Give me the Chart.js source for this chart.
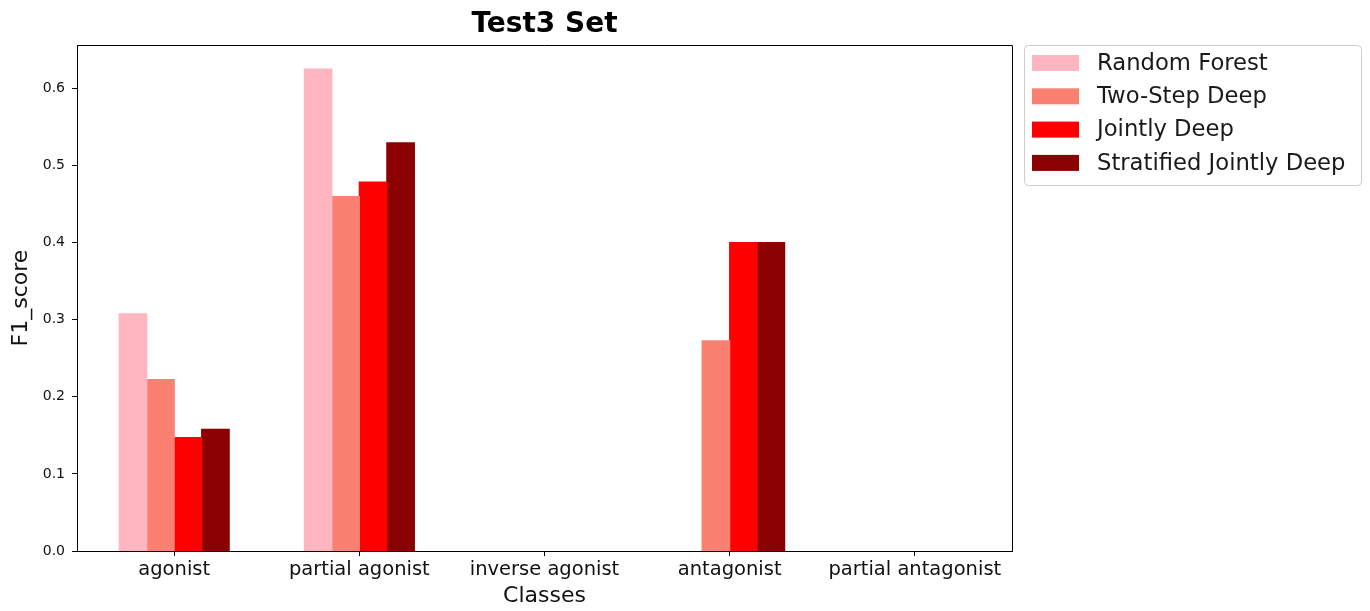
<!DOCTYPE html>
<html>
<head>
<meta charset="utf-8">
<title>Test3 Set</title>
<script src="https://cdn.jsdelivr.net/npm/chart.js@4.4.1/dist/chart.umd.min.js"></script>
<style>
  html, body { margin: 0; padding: 0; background: #fff; }
  #wrap { width: 1370px; height: 611px; }
</style>
</head>
<body>
<div id="wrap"><canvas id="f1chart" width="1370" height="611"></canvas></div>
<script>
// F1 per class for each model on the Test3 split
const classes = ['agonist', 'partial agonist', 'inverse agonist', 'antagonist', 'partial antagonist'];
const models = ['Random Forest', 'Two-Step Deep', 'Jointly Deep', 'Stratified Jointly Deep'];
const randomForest = [0.3077, 0.625, 0, 0, 0];
const twoStepDeep = [0.2222, 0.4595, 0, 0.2727, 0];
const jointlyDeep = [0.1471, 0.4783, 0, 0.4, 0];
const stratifiedDeep = [0.1579, 0.5294, 0, 0.4, 0];
const yTicks = [0, 0.1, 0.2, 0.3, 0.4, 0.5, 0.6];
const colors = ['#FFB6C1', '#FA8072', '#FF0000', '#8B0000'];

const seriesList = [randomForest, twoStepDeep, jointlyDeep, stratifiedDeep];
const yMax = Math.max(...seriesList.flat()) * 1.05;

Chart.defaults.font.family = "'DejaVu Sans', sans-serif";
Chart.defaults.color = '#111';

// top/right spines + boxed legend, matplotlib style
const framePlugin = {
  id: 'frame',
  afterDraw(chart) {
    const { ctx, chartArea: a } = chart;
    ctx.save();
    ctx.strokeStyle = '#000';
    ctx.lineWidth = 1;
    ctx.beginPath();
    ctx.moveTo(a.left, Math.round(a.top) + 0.5);
    ctx.lineTo(a.right + 0.5, Math.round(a.top) + 0.5);
    ctx.lineTo(a.right + 0.5, a.bottom);
    ctx.stroke();

    // legend
    const lx = a.right + 12, ly = a.top, lw = 337, lh = 140;
    ctx.beginPath();
    if (ctx.roundRect) ctx.roundRect(lx + 0.5, ly + 0.5, lw, lh, 4);
    else ctx.rect(lx + 0.5, ly + 0.5, lw, lh);
    ctx.fillStyle = 'rgba(255,255,255,0.8)';
    ctx.fill();
    ctx.strokeStyle = '#cccccc';
    ctx.stroke();

    ctx.font = "22.7px 'DejaVu Sans'";
    ctx.textBaseline = 'middle';
    ctx.textAlign = 'left';
    chart.data.datasets.forEach((ds, i) => {
      const cy = ly + 18 + i * 33.3;
      ctx.fillStyle = ds.backgroundColor;
      ctx.fillRect(lx + 8, cy - 8, 47, 16);
      ctx.fillStyle = '#1a1a1a';
      ctx.fillText(ds.label, lx + 73, cy + 1);
    });
    ctx.restore();
  }
};

const ctx = document.getElementById('f1chart').getContext('2d');
new Chart(ctx, {
  type: 'bar',
  data: {
    datasets: models.map((name, m) => ({
      label: name,
      data: classes.map((c, i) => ({ x: i, y: seriesList[m][i] })),
      backgroundColor: colors[m],
      borderWidth: 0,
      // close the hairline seams between neighbouring bars, skip empty ones
      inflateAmount: (c) => (c.raw && c.raw.y > 0 ? 0.6 : 0),
      categoryPercentage: 0.594,
      barPercentage: 1.0
    }))
  },
  options: {
    responsive: false,
    animation: false,
    layout: { padding: { left: 0, right: 358, top: 0, bottom: 0 } },
    plugins: {
      legend: { display: false },
      tooltip: { enabled: false },
      title: {
        display: true,
        text: 'Test3 Set',
        fullSize: false,
        color: '#000',
        font: { size: 28, weight: 'bold', lineHeight: 1.2 },
        padding: { top: 8, bottom: 3.4 }
      }
    },
    scales: {
      x: {
        type: 'linear',
        min: -0.525,
        max: 4.525,
        offset: false,
        afterBuildTicks: (scale) => { scale.ticks = classes.map((c, i) => ({ value: i })); },
        afterFit: (scale) => { scale.height = 60; },
        ticks: {
          callback: (v) => classes[v],
          font: { size: 19.5, lineHeight: 1.2 },
          padding: 2,
          maxRotation: 0,
          autoSkip: false
        },
        grid: { offset: false, drawOnChartArea: false, drawTicks: true, tickLength: 5, color: '#000' },
        border: { display: true, color: '#000', width: 1 },
        title: {
          display: true,
          text: 'Classes',
          font: { size: 22, lineHeight: 1.2 },
          padding: { top: 0, bottom: 2 }
        }
      },
      y: {
        min: 0,
        max: yMax,
        afterBuildTicks: (scale) => { scale.ticks = yTicks.map(v => ({ value: v })); },
        afterFit: (scale) => { scale.width = 77; },
        ticks: {
          callback: (v) => v.toFixed(1),
          font: { size: 14 },
          padding: 7
        },
        grid: { drawOnChartArea: false, drawTicks: true, tickLength: 5, color: '#000' },
        border: { display: true, color: '#000', width: 1 },
        title: {
          display: true,
          text: 'F1_score',
          font: { size: 22, lineHeight: 1.2 },
          padding: { top: 8, bottom: 0 }
        }
      }
    }
  },
  plugins: [framePlugin]
});
</script>
</body>
</html>
